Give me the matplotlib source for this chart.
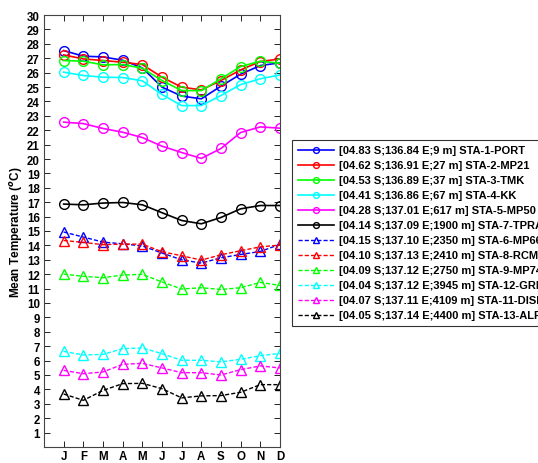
import matplotlib
matplotlib.use("Agg")
import matplotlib.pyplot as plt

plt.rcParams['font.family'] = ['Liberation Sans', 'DejaVu Sans']
plt.rcParams['font.weight'] = 'bold'

months = ['J', 'F', 'M', 'A', 'M', 'J', 'J', 'A', 'S', 'O', 'N', 'D']

sta1 = [27.53, 27.14, 27.09, 26.86, 26.33, 24.99, 24.37, 24.18, 25.06, 25.89, 26.49, 26.68]
sta2 = [27.23, 26.95, 26.84, 26.72, 26.56, 25.68, 24.99, 24.80, 25.45, 26.19, 26.77, 26.95]
sta3 = [26.84, 26.79, 26.54, 26.56, 26.31, 25.45, 24.75, 24.75, 25.57, 26.42, 26.79, 26.65]
sta4 = [26.03, 25.80, 25.68, 25.66, 25.43, 24.48, 23.71, 23.71, 24.41, 25.17, 25.57, 25.84]
sta5 = [22.56, 22.46, 22.12, 21.86, 21.49, 20.89, 20.45, 20.04, 20.73, 21.84, 22.23, 22.14]
sta7 = [16.87, 16.82, 16.94, 16.98, 16.82, 16.27, 15.73, 15.50, 15.94, 16.54, 16.77, 16.77]
sta6 = [14.93, 14.58, 14.23, 14.11, 13.96, 13.47, 13.00, 12.77, 13.14, 13.37, 13.58, 14.07]
sta8 = [14.34, 14.21, 14.05, 14.09, 14.09, 13.56, 13.28, 12.98, 13.35, 13.63, 13.90, 14.02]
sta9 = [12.01, 11.85, 11.76, 11.94, 11.99, 11.46, 10.97, 11.06, 10.94, 11.06, 11.43, 11.22]
sta12 = [6.64, 6.39, 6.43, 6.83, 6.88, 6.48, 6.02, 6.02, 5.91, 6.09, 6.34, 6.50]
sta11 = [5.32, 5.09, 5.21, 5.74, 5.81, 5.49, 5.16, 5.16, 5.00, 5.37, 5.63, 5.49]
sta13 = [3.68, 3.24, 3.93, 4.40, 4.42, 4.05, 3.41, 3.55, 3.57, 3.80, 4.33, 4.33]

labels = ['[04.83 S;136.84 E;9 m] STA-1-PORT',
          '[04.62 S;136.91 E;27 m] STA-2-MP21',
          '[04.53 S;136.89 E;37 m] STA-3-TMK',
          '[04.41 S;136.86 E;67 m] STA-4-KK',
          '[04.28 S;137.01 E;617 m] STA-5-MP50',
          '[04.14 S;137.09 E;1900 m] STA-7-TPRA',
          '[04.15 S;137.10 E;2350 m] STA-6-MP66',
          '[04.10 S;137.13 E;2410 m] STA-8-RCMI',
          '[04.09 S;137.12 E;2750 m] STA-9-MP74',
          '[04.04 S;137.12 E;3945 m] STA-12-GRE',
          '[04.07 S;137.11 E;4109 m] STA-11-DISP',
          '[04.05 S;137.14 E;4400 m] STA-13-ALP']

series = [sta1, sta2, sta3, sta4, sta5, sta7, sta6, sta8, sta9, sta12, sta11, sta13]
colors = ['#0000ff', '#ff0000', '#00ff00', '#00ffff', '#ff00ff', '#000000',
          '#0000ff', '#ff0000', '#00ff00', '#00ffff', '#ff00ff', '#000000']

fig = plt.figure(figsize=(5.38, 4.64), dpi=100)
ax = fig.add_axes([0.0818, 0.0345, 0.4386, 0.931])
x = list(range(1, 13))
for i, (s, c, lab) in enumerate(zip(series, colors, labels)):
    if i < 6:
        ax.plot(x, s, '-o', color=c, lw=1.2, ms=7, mfc='none', mew=1.0, label=lab)
    else:
        ax.plot(x, s, '--^', color=c, lw=1.0, ms=7, mfc='none', mew=1.0, label=lab,
                dashes=(3, 1.5))

ax.set_xlim(0, 12)
ax.set_ylim(0, 30)
ax.set_xticks(x)
ax.set_xticklabels(months)
ax.set_yticks(range(1, 31))
ax.tick_params(direction='in', top=True, right=True, labelsize=8.3, length=4, width=0.6, pad=3)
ax.tick_params(axis='x', pad=2)
for sp in ax.spines.values():
    sp.set_linewidth(0.8)
    sp.set_color('#444444')
ax.set_ylabel('Mean Temperature ($^{o}$C)', fontsize=8.5, fontweight='bold', labelpad=1)

leg = ax.legend(loc='upper left', bbox_to_anchor=(1.051, 0.711), borderaxespad=0,
                fontsize=8, markerscale=0.6, handlelength=3.3, frameon=True,
                fancybox=False, edgecolor='black', labelspacing=0.45, handletextpad=0.4,
                borderpad=0.5)
leg.get_frame().set_linewidth(0.8)

plt.savefig('out.png', dpi=100)
